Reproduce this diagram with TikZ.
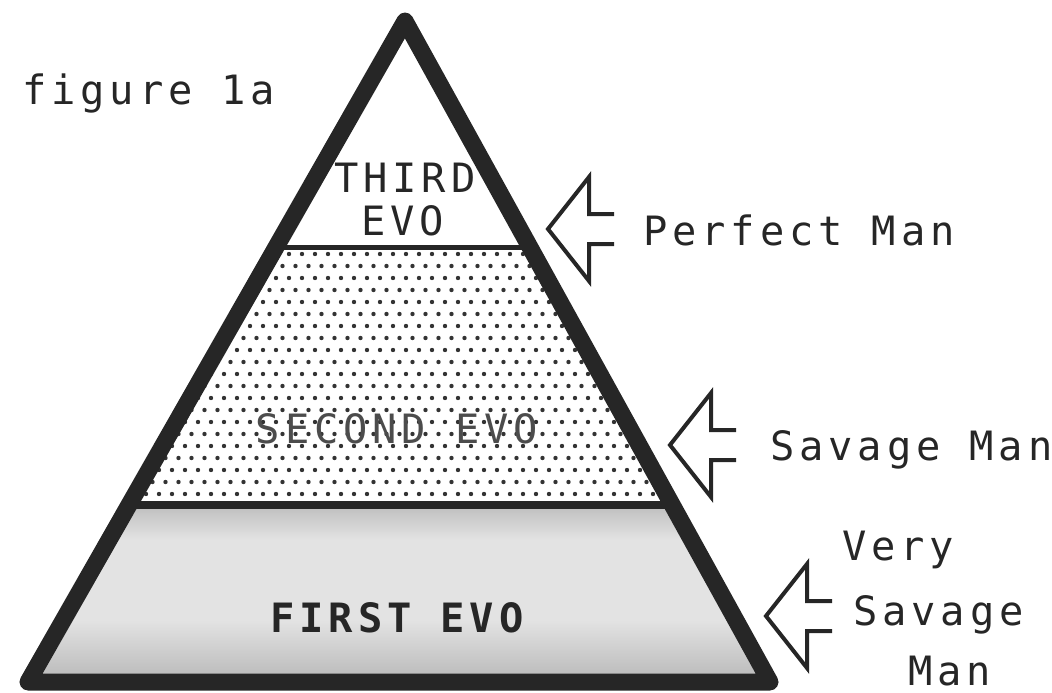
\documentclass[tikz,border=0pt]{standalone}
\usepackage{fontspec}
\newfontfamily\evofont[LetterSpace=12]{DejaVu Sans Mono}
\usetikzlibrary{calc}
\tikzset{
  label/.style={font=\evofont\fontsize{23}{28}\selectfont, text=black!85, inner sep=0pt},
  pyramid/.style={draw=black!85, line width=0.34cm, line join=round},
  openarrow/.style={draw=black!85, line width=0.08cm, line join=miter},
}
\begin{document}
\begin{tikzpicture}[x=0.02cm, y=-0.02cm]
	\useasboundingbox (0,0) rectangle (1052,693);
	
	% corners of the pyramid
	\coordinate (top) at (405,21);
	\coordinate (bl) at (28,682);
	\coordinate (br) at (770,682);
	\coordinate (l1) at ($(top)!0.3434!(bl)$);
	\coordinate (r1) at ($(top)!0.3434!(br)$);
	\coordinate (l2) at ($(top)!0.7322!(bl)$);
	\coordinate (r2) at ($(top)!0.7322!(br)$);
	
	% lowest band: grey grain, darker at its edges
	\begin{scope}
		\clip (l2) -- (r2) -- (br) -- (bl) -- cycle;
		\fill[gray!22] (0,500) rectangle (800,690);
		\shade[top color=gray!55, bottom color=gray!22] (0,540) rectangle (800,500);
		\shade[top color=gray!22, bottom color=gray!60] (0,690) rectangle (800,620);
	\end{scope}
	% middle band: dots
	\begin{scope}
		\clip (l1) -- (r1) -- (r2) -- (l2) -- cycle;
		\foreach \row in {0,...,21} {
			\pgfmathsetmacro\off{mod(\row,2)*6.5}
			\foreach \col in {0,...,42}
				\fill[black!80] (120+\off+13*\col, 254+12*\row) circle (1.25pt);
		}
	\end{scope}
	
	\draw[draw=black!85, line width=0.1cm] (l1) -- (r1);
	\draw[draw=black!85, line width=0.16cm] (l2) -- (r2);
	\draw[pyramid] (top) -- (br) -- (bl) -- cycle;
	
	% band names
	\node[label, anchor=base] (third) at (405,192) {THIRD};
	\node[label, anchor=base] (thirdevo) at (403,235) {EVO};
	\node[label, anchor=base, text=black!70] (second) at (397,443) {SECOND EVO};
	\node[label, anchor=base, font=\evofont\bfseries\fontsize{23}{28}\selectfont] (first) at (397,632) {FIRST EVO};
	\node[label, anchor=base west] (fig) at (22,104) {figure 1a};
	
	% open arrows pointing at the pyramid
	\foreach \tx/\ty in {548/229, 670/445, 766/616}
		\draw[openarrow] (\tx+66,\ty-15) -- ++(-25,0) -- ++(0,-37) -- (\tx,\ty)
			-- ++(41,52) -- ++(0,-37) -- ++(25,0);
	
	\node[label, anchor=base west] (perfect) at (643,245) {Perfect Man};
	\node[label, anchor=base west] (savage) at (770,460) {Savage Man};
	\node[label, anchor=base west] (very) at (842,560) {Very};
	\node[label, anchor=base west] (vsavage) at (853,625) {Savage};
	\node[label, anchor=base west] (vman) at (908,685) {Man};
\end{tikzpicture}
\end{document}
